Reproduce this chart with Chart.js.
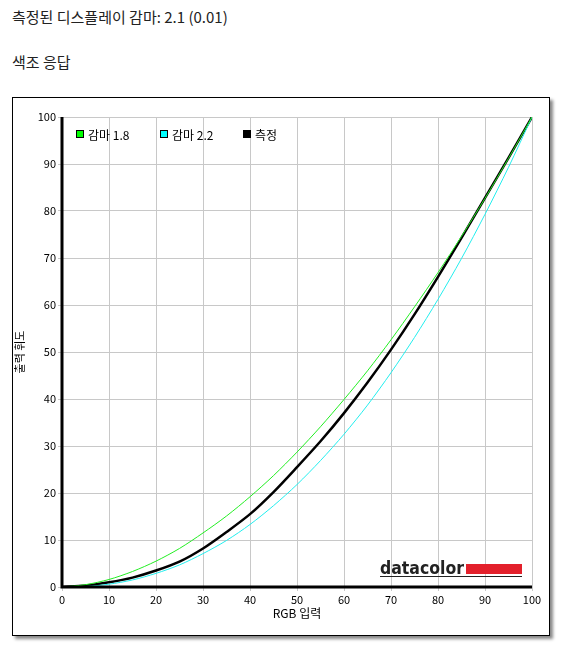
<!DOCTYPE html>
<html><head><meta charset="utf-8">
<script src="https://cdn.jsdelivr.net/npm/chart.js@4"></script>
<style>
body{margin:0;background:#fff;font-family:"Noto Sans CJK KR",sans-serif;color:#222}
.t{position:absolute;left:12px;font-size:15px}
#frame{position:absolute;left:12px;top:97px;width:536px;height:537px;border:1px solid #000;box-shadow:3px 3px 3px #888;background:#fff}
</style></head><body>
<div class="t" style="top:6px">측정된 디스플레이 감마: 2.1 (0.01)</div>
<div class="t" style="top:51px">색조 응답</div>
<div id="frame"><canvas id="c" width="536" height="537"></canvas></div>
<script>
// 데이터
const inputs = [0,5,10,15,20,25,30,35,40,45,50,55,60,65,70,75,80,85,90,95,100];
const gamma18 = [0,0.5,1.6,3.3,5.5,8.2,11.5,15.1,19.2,23.7,28.7,34.1,39.9,46.0,52.6,59.6,66.9,74.6,82.7,91.2,100];
const gamma22 = [0,0.1,0.6,1.5,2.9,4.7,7.1,9.9,13.3,17.3,21.8,26.9,32.5,38.7,45.6,53.1,61.2,69.9,79.3,89.3,100];
const measured = [0,0.3,1.0,2.0,3.5,5.4,8.2,11.7,15.5,20.2,25.5,31.0,37.0,43.5,50.5,58.0,66.0,74.3,82.8,91.3,100];
const ticks = [0,10,20,30,40,50,60,70,80,90,100];

const font = {family:'"Noto Sans CJK KR",sans-serif', size:11};

const overlay = {
  id:'overlay',
  afterDraw(chart){
    const ctx = chart.ctx, a = chart.chartArea;
    ctx.save();
    // 축선
    ctx.strokeStyle='#000'; ctx.lineWidth=3;
    ctx.beginPath(); ctx.moveTo(a.left,a.top); ctx.lineTo(a.left,a.bottom); ctx.lineTo(a.right,a.bottom); ctx.stroke();
    // 범례
    ctx.font='12px "Noto Sans CJK KR",sans-serif'; ctx.textBaseline='middle';
    const items=[['감마 1.8','#00ff00',63],['감마 2.2','#00ffff',147],['측정','#000',230]];
    items.forEach(([t,col,x])=>{
      ctx.fillStyle=col; ctx.fillRect(x,32,8,8);
      ctx.strokeStyle='#000'; ctx.lineWidth=1; ctx.strokeRect(x+0.5,32.5,7,7);
      ctx.fillStyle='#000'; ctx.fillText(t,x+12,37);
    });
    // 로고
    ctx.font='bold 17px "DejaVu Sans",sans-serif'; ctx.fillStyle='#222'; ctx.textBaseline='alphabetic';
    const w = ctx.measureText('datacolor').width;
    ctx.save(); ctx.translate(367,476); ctx.scale(84/w,1); ctx.fillText('datacolor',0,0); ctx.restore();
    ctx.fillStyle='#e3202b'; ctx.fillRect(453,466,56,10);
    ctx.fillStyle='#222'; ctx.fillRect(367,478,142,1);
    ctx.restore();
  }
};

new Chart(document.getElementById('c'), {
  type:'line',
  data:{
    labels:inputs,
    datasets:[
      {label:'감마 1.8',data:gamma18,borderColor:'#22ee22',borderWidth:1,pointRadius:0,tension:0.3},
      {label:'감마 2.2',data:gamma22,borderColor:'#22eeee',borderWidth:1,pointRadius:0,tension:0.3},
      {label:'측정',data:measured,borderColor:'#000',borderWidth:2.5,pointRadius:0,tension:0.3}
    ]
  },
  options:{
    responsive:false,animation:false,
    layout:{padding:{top:19,right:17,left:0,bottom:14}},
    plugins:{legend:{display:false},tooltip:{enabled:false}},
    scales:{
      x:{type:'linear',min:0,max:100,
        afterBuildTicks:s=>{s.ticks=ticks.map(v=>({value:v}));},
        afterFit:s=>{s.height=34;},
        grid:{color:'#c8c8c8',drawTicks:true,tickLength:4},border:{display:false},
        ticks:{color:'#000',font,maxRotation:0,padding:2},
        title:{display:true,text:'RGB 입력',color:'#000',font:{...font,size:12},padding:0}},
      y:{min:0,max:100,
        afterBuildTicks:s=>{s.ticks=ticks.map(v=>({value:v}));},
        afterFit:s=>{s.width=49;},
        grid:{color:'#c8c8c8',tickLength:4},border:{display:false},
        ticks:{color:'#000',font,padding:2},
        title:{display:true,text:'출력 휘도',color:'#000',font,padding:0}}
    }
  },
  plugins:[overlay]
});
</script></body></html>
